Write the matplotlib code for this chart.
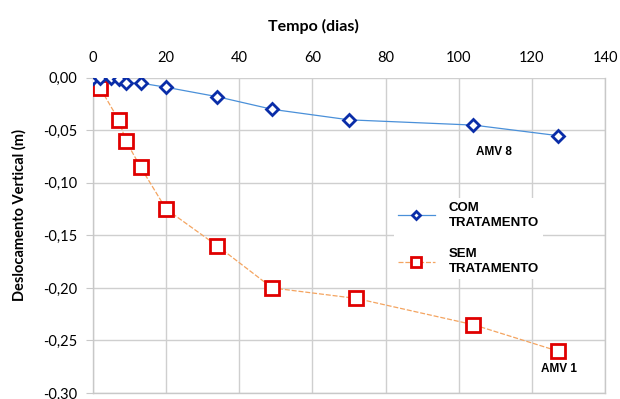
import matplotlib
matplotlib.use("Agg")
import matplotlib.pyplot as plt

# COM TRATAMENTO (AMV 8)
dias_com = [0, 2, 5, 7, 9, 13, 20, 34, 49, 70, 104, 127]
desl_com = [0.0, 0.0, 0.0, -0.001, -0.005, -0.005, -0.009, -0.018, -0.030, -0.040, -0.045, -0.055]

# SEM TRATAMENTO (AMV 1)
dias_sem = [0, 2, 7, 9, 13, 20, 34, 49, 72, 104, 127]
desl_sem = [0.0, -0.010, -0.040, -0.060, -0.085, -0.125, -0.160, -0.200, -0.210, -0.235, -0.260]

xticks = [0, 20, 40, 60, 80, 100, 120, 140]
yticks = [0.0, -0.05, -0.10, -0.15, -0.20, -0.25, -0.30]

fig = plt.figure(figsize=(6.2, 3.99), dpi=100)
ax = fig.add_axes([0.150, 0.015, 0.826, 0.790])

ax.plot(dias_com, desl_com, color="#4A90D9", lw=0.9, marker="D", ms=6,
        mfc="white", mec="#0A2DA8", mew=2.0, label="COM\nTRATAMENTO", zorder=4)
ax.plot(dias_sem, desl_sem, color="#F4A460", lw=0.9, ls=(0, (4, 1.5)), marker="s", ms=10,
        mfc="white", mec="#E00000", mew=2.0, label="SEM\nTRATAMENTO", zorder=3)

ax.set_xlim(0, 140)
ax.set_ylim(-0.30, 0.0)
ax.set_xticks(xticks)
ax.set_yticks(yticks)
ax.set_yticklabels([("%.2f" % v).replace(".", ",") if v != 0 else "0,00" for v in yticks])
ax.xaxis.tick_top()
ax.xaxis.set_label_position("top")
ax.tick_params(axis="x", length=0, pad=9, labelsize=10.5)
ax.tick_params(axis="y", length=5, color="#C8C8C8", pad=6, labelsize=10.5)
for lab in ax.get_xticklabels() + ax.get_yticklabels():
    lab.set_family("Lato")

ax.grid(True, color="#CFCFCF", lw=1.0)
ax.set_axisbelow(True)
ax.spines["top"].set_visible(False)
for side in ["left", "right", "bottom"]:
    ax.spines[side].set_color("#C8C8C8")
    ax.spines[side].set_linewidth(1.0)

ax.set_xlabel("Tempo (dias)", fontsize=11.5, fontweight="bold", family="Lato")
ax.xaxis.set_label_coords(0.43, 1.148)
ax.set_ylabel("Deslocamento Vertical (m)", fontsize=10.5, fontweight="bold", family="Lato")
ax.yaxis.set_label_coords(-0.129, 0.565)

leg = ax.legend(loc="upper left", bbox_to_anchor=(0.575, 0.64), frameon=True,
                facecolor="white", edgecolor="none", framealpha=1,
                prop={"family": "Liberation Sans", "weight": "bold", "size": 9.5},
                handlelength=2.8, labelspacing=1.5, handletextpad=1.05, borderpad=0.3)
for t in leg.get_texts():
    t.set_linespacing(1.3)
leg.legend_handles[0].set_markersize(4.5)
leg.legend_handles[1].set_markersize(6.5)

ax.text(109.5, -0.071, "AMV 8", fontsize=8.5, fontweight="bold", family="Liberation Sans",
        ha="center", va="center")
ax.text(127.5, -0.277, "AMV 1", fontsize=8.5, fontweight="bold", family="Liberation Sans",
        ha="center", va="center")

fig.savefig("out.png", dpi=100)
